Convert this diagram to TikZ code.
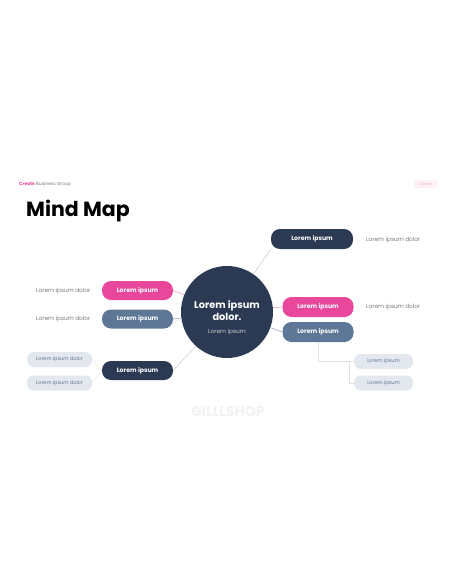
\documentclass[tikz,border=0pt]{standalone}
\usepackage{fontspec}
\setmainfont{Poppins}
\usepackage{tikz}
\usetikzlibrary{positioning}
\definecolor{navy}{HTML}{2B3A52}
\definecolor{hotpink}{HTML}{E8479C}
\definecolor{slate}{HTML}{5F7796}
\definecolor{paleblue}{HTML}{E3E7EE}
\definecolor{greytext}{HTML}{7A7A7A}
\definecolor{linegray}{HTML}{C4C8CE}

\tikzset{
	pill/.style={rounded corners=9pt, minimum width=71pt, minimum height=19pt, text=white, font=\fontsize{6.2}{7}\selectfont\bfseries, inner sep=0pt},
	smallpill/.style={rounded corners=7pt, fill=paleblue, minimum height=15pt, text=slate, font=\fontsize{5}{6}\selectfont, inner sep=0pt},
	note/.style={text=greytext, font=\fontsize{5.8}{7}\selectfont, inner sep=0pt},
	link/.style={linegray, line width=0.5pt}
}

\begin{document}
\begin{tikzpicture}[x=1pt, y=-1pt]
	\useasboundingbox [fill=white] (0,0) rectangle (456,586);
	% header
	\node [anchor=west, inner sep=0pt, font=\fontsize{4.5}{5}\selectfont] (brand) at (19,184) {\textcolor{hotpink}{\bfseries Create} \textcolor{greytext}{Business Group}};
	\node [fill=hotpink!8, rounded corners=4pt, minimum width=25pt, minimum height=8pt, inner sep=0pt, text=hotpink!40, font=\fontsize{3.8}{4}\selectfont] (tag) at (425.5,184) {Create};
	\node [anchor=west, inner sep=0pt, font=\fontsize{20.5}{22}\selectfont\bfseries] (title) at (26,211) {Mind Map};
	\node [text=black!5, font=\fontsize{14}{15}\selectfont\bfseries, inner sep=0pt] (mark) at (228,412) {GILLLSHOP};

	% centre
	\node [circle, fill=navy, minimum size=92pt, inner sep=0pt] (hub) at (227,312) {};
	\node [text=white, align=center, font=\fontsize{9.8}{11.5}\selectfont\bfseries, inner sep=0pt] (hubtitle) at (227,310.5) {Lorem ipsum\\dolor.};
	\node [text=white!75!navy, font=\fontsize{5.8}{6}\selectfont, inner sep=0pt] (hubsub) at (227,332) {Lorem ipsum};

	% left branches
	\node [pill, fill=hotpink] (lpink) at (137.5,290.5) {Lorem ipsum};
	\node [pill, fill=slate] (lslate) at (137.5,319) {Lorem ipsum};
	\node [pill, fill=navy] (ldark) at (137.5,370.5) {Lorem ipsum};
	\node [note, anchor=west] (lnote1) at (36,291) {Lorem ipsum dolor};
	\node [note, anchor=west] (lnote2) at (36,319) {Lorem ipsum dolor};
	\node [smallpill, minimum width=65pt] (lsub1) at (59.5,359.5) {Lorem ipsum dolor};
	\node [smallpill, minimum width=65pt] (lsub2) at (59.5,383) {Lorem ipsum dolor};

	% right branches
	\node [pill, fill=navy, minimum width=82pt, minimum height=20pt] (rdark) at (312,239) {Lorem ipsum};
	\node [pill, fill=hotpink, minimum height=20pt] (rpink) at (318,307) {Lorem ipsum};
	\node [pill, fill=slate, minimum height=20pt] (rslate) at (318,332) {Lorem ipsum};
	\node [note, anchor=west] (rnote1) at (366,240) {Lorem ipsum dolor};
	\node [note, anchor=west] (rnote2) at (366,307) {Lorem ipsum dolor};
	\node [smallpill, minimum width=59pt] (rsub1) at (383.5,361.5) {Lorem ipsum};
	\node [smallpill, minimum width=59pt] (rsub2) at (383.5,383) {Lorem ipsum};
	\coordinate (rfork) at (349,361.5);

	% connectors
	\draw [hotpink!60, line width=0.5pt] (lpink.east) -- (hub);
	\draw [slate!70, line width=0.5pt] (lslate.east) -- (hub);
	\draw [link] (ldark.east) -- (hub);
	\draw [link, black!8] (ldark.west) -- (lsub1.east);
	\draw [link, black!8] (ldark.west) -- (lsub2.east);
	\draw [link] (hub) -- (rdark.south west);
	\draw [hotpink!60, line width=0.5pt] (hub) -- (rpink.west);
	\draw [slate!70, line width=0.5pt] (hub) -- (rslate.west);
	\draw [link, black!12] (rslate.south) |- (rfork) -- (rsub1.west);
	\draw [link, black!12] (rfork) |- (rsub2.west);

\end{tikzpicture}
\end{document}
